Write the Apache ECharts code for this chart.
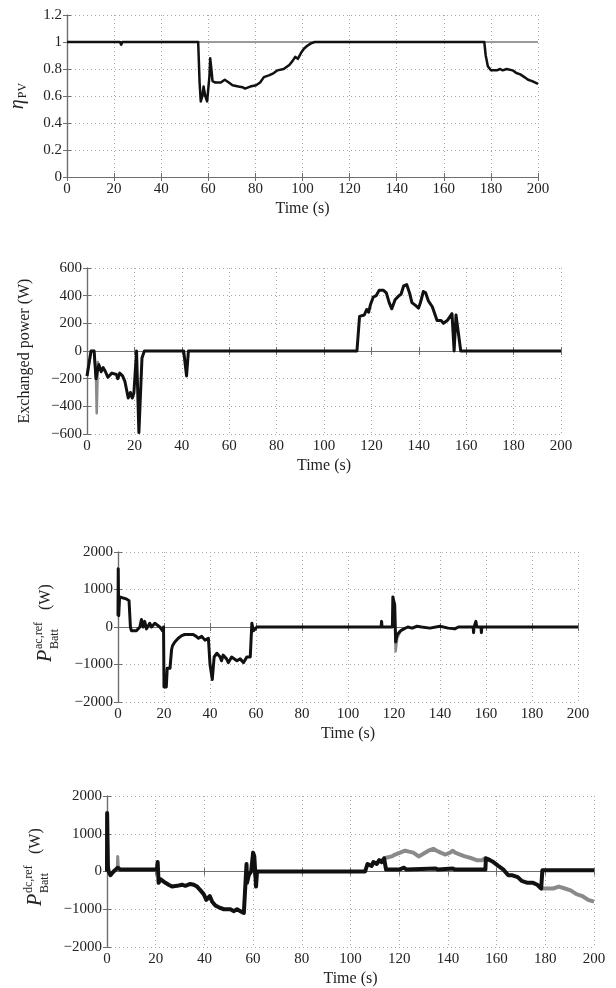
<!DOCTYPE html>
<html>
<head>
<meta charset="utf-8">
<script src="https://cdn.jsdelivr.net/npm/echarts@6/dist/echarts.min.js"></script>
<style>
  html, body { margin: 0; padding: 0; background: #fff; }
  #chart { width: 616px; height: 988px; }
</style>
</head>
<body>
<div id="chart"></div>
<script>
// time axis shared by all four panels
const timeTicks = { min: 0, max: 200, interval: 20 };

// panel 1: PV efficiency
const etaPv = [[0,1],[22.5,1],[23,0.98],[23.5,1],[55.7,1],[56.3,0.7],[56.8,0.56],[57.5,0.6],[58,0.67],[58.7,0.6],[59.5,0.56],[60,0.55],[60.5,0.75],[60.8,0.88],[61.3,0.8],[61.8,0.71],[63,0.70],[65.3,0.70],[67,0.72],[68.7,0.70],[70.3,0.68],[72.8,0.67],[74.5,0.665],[75.6,0.655],[77.8,0.67],[80.3,0.68],[82,0.70],[83.6,0.74],[86,0.755],[87.8,0.77],[89.4,0.79],[92,0.80],[92.8,0.795],[94.4,0.83],[95.8,0.86],[96.9,0.89],[98,0.875],[99.4,0.92],[100.6,0.95],[101.9,0.97],[103.6,0.99],[105.2,1],[177.2,1],[177.8,0.9],[178.7,0.82],[180,0.79],[182.5,0.79],[183.9,0.80],[185,0.79],[186.7,0.80],[187.5,0.81],[189.2,0.79],[190.8,0.77],[192.5,0.76],[194.2,0.74],[195.8,0.72],[197.5,0.71],[200,0.69]];
const etaMax = [[0,1],[200,1]];

// panel 2: exchanged power
const exchPower = [[0,-180],[1.7,0],[3,0],[3.8,-200],[4.3,-150],[5,-100],[6,-150],[6.8,-120],[7.8,-150],[8.8,-190],[10.5,-160],[11.3,-150],[12.4,-170],[13,-200],[13.8,-160],[15,-180],[16,-220],[16.7,-230],[17.4,-340],[18.3,-300],[19.1,-340],[19.8,-300],[20.9,0],[21.9,-590],[23.2,-50],[24.2,0],[40.8,0],[42,-180],[42.8,0],[113.9,0],[115,250],[117,260],[118,300],[118.8,280],[119.7,340],[120.8,390],[122,400],[123.3,440],[125,440],[126.3,420],[127.5,350],[128.6,305],[130,370],[131.6,400],[132.5,410],[133.6,470],[134.9,480],[136.1,420],[137.1,350],[138.6,330],[139.9,310],[140.7,350],[141.9,430],[142.9,420],[144.1,360],[145.7,320],[146.5,280],[147.7,220],[149.4,220],[150.4,200],[152,220],[154,270],[154.9,0],[155.7,260],[156.5,250],[157.7,0],[200,0]];
const exchPowerRef = [[0,-180],[1.7,0],[3,0],[3.8,-200],[4.1,-450],[4.6,-80],[5,-100]];

// panel 3: battery ac reference
const acRef = [[0,300],[0.1,1550],[0.3,300],[0.7,800],[1.5,780],[3.6,750],[4.8,700],[5.4,0],[5.8,-100],[8,-100],[8.7,-50],[9.5,0],[10.2,200],[10.9,0],[11.6,150],[12.4,-50],[13.8,100],[14.6,0],[15.3,-50],[16,100],[16.7,50],[18.2,0],[19.4,-100],[19.8,0],[20,-1600],[21,-1600],[21.4,-1100],[22.6,-1100],[23.3,-600],[23.7,-500],[24.7,-400],[26.2,-300],[27.7,-230],[29,-200],[32.7,-200],[34,-250],[35,-300],[36.4,-250],[37.8,-350],[39.3,-300],[40,-1000],[41,-1400],[41.8,-800],[43,-700],[44.4,-800],[45,-900],[45.7,-750],[47.2,-850],[48,-950],[49.4,-800],[51.7,-900],[53.1,-850],[54.6,-950],[55.3,-1000],[56,-800],[57.5,-800],[58.2,100],[58.9,-100],[60.4,0],[114.4,0],[114.6,150],[114.8,0],[119.3,0],[119.5,800],[120.3,600],[120.7,-400],[121.4,-200],[122.9,-100],[124.3,-50],[126,0],[127.9,-30],[130,20],[132,0],[135.6,-30],[140,20],[143.6,-30],[146.4,-50],[148,0],[154.4,0],[154.6,-150],[154.8,0],[155.6,150],[156,0],[157.8,0],[158,-150],[158.2,0],[200,0]];
const acRefGray = [[120.3,600],[120.7,-650],[121.4,-300],[122.9,-100],[124.3,-50]];

// panel 4: battery dc reference
const dcRef = [[0,0],[0.05,1550],[0.4,100],[0.7,0],[1.4,-100],[2,-50],[2.7,0],[3.4,50],[4.4,100],[5.5,50],[20.5,50],[20.8,250],[21.2,-300],[21.9,-200],[22.6,-250],[24,-300],[25.3,-350],[26.7,-400],[28.8,-380],[30.8,-350],[32.2,-380],[34.2,-330],[35.6,-350],[37,-400],[38.4,-500],[39.7,-600],[40.8,-750],[42.2,-650],[43.2,-800],[44.5,-900],[45.9,-950],[48,-1000],[50.7,-1000],[52,-1050],[53.4,-1000],[54.1,-950],[54.8,-1050],[56.2,-1100],[56.8,-1050],[57.3,200],[57.5,-300],[58.2,-100],[59.2,0],[60,500],[60.5,400],[61.2,-400],[61.6,0],[106,0],[107,200],[108.7,150],[109.4,250],[110.8,200],[111.8,300],[112.8,250],[113.8,350],[114.6,50],[120,50],[122,100],[123,50],[135,80],[136,50],[142,80],[143,50],[155.4,50],[155.6,350],[157.3,300],[158.7,250],[160.7,150],[162.8,50],[164.8,-100],[166.5,-100],[168.7,-150],[170.3,-250],[172.7,-300],[175,-300],[176.7,-350],[178.3,-450],[178.8,30],[200,30]];
const dcRefSpike = [[4.2,50],[4.4,400],[4.7,50]];
const dcRefMid = [[113.8,350],[114.6,300],[116.9,400],[118.3,450],[120.4,500],[122.4,550],[124.5,520],[125.8,500],[128,400],[129.4,450],[132,550],[134,600],[135.4,550],[137,500],[139,450],[140.9,500],[142,550],[143,500],[145,450],[147,400],[149.8,350],[151.8,300],[153.9,300],[155.3,350],[155.9,350],[157.3,300]];
const dcRefEnd = [[178.3,-450],[180,-450],[183.2,-450],[185.6,-400],[188,-450],[190.4,-500],[192.8,-600],[195.2,-650],[197.6,-750],[200,-800]];

const serif = 'Liberation Serif';
const frameColor = '#6e6e6e';
const gridLine = { show: true, lineStyle: { color: '#a8a8a8', type: [1, 3], width: 1 } };

// plain numbers, true minus sign, no thousands separator
function tickText(v) {
  const s = String(Math.round(v * 100) / 100);
  return s.replace('-', '\u2212');
}

var chartDom = document.getElementById('chart');
var myChart = echarts.init(chartDom);
var option;

const grids = [
  { left: 63, right: 78, top: 15, height: 162 },
  { left: 87, right: 55, top: 268, height: 166 },
  { left: 118, right: 38, top: 552, height: 150 },
  { left: 107, right: 22, top: 796, height: 151 }
];

const yRanges = [
  { min: 0, max: 1.2, interval: 0.2 },
  { min: -600, max: 600, interval: 200 },
  { min: -2000, max: 2000, interval: 1000 },
  { min: -2000, max: 2000, interval: 1000 }
];

const yNames = [
  { name: '{i|η}{sub|PV}', gap: 38 },
  { name: 'Exchanged power (W)', gap: 54 },
  { name: '', gap: 0 },
  { name: '', gap: 0 }
];

const xAxes = [];
const yAxes = [];
grids.forEach(function (g, i) {
  xAxes.push({
    type: 'value', gridIndex: i, min: timeTicks.min, max: timeTicks.max, interval: timeTicks.interval,
    name: 'Time (s)', nameLocation: 'middle', nameGap: 24,
    nameTextStyle: { fontFamily: serif, fontSize: 16, color: '#222' },
    axisLine: { show: true, lineStyle: { color: frameColor, width: 1.2 } },
    axisTick: { show: true, inside: true, length: 4, lineStyle: { color: frameColor } },
    axisLabel: { fontFamily: serif, fontSize: 15, color: '#222', margin: 5, formatter: tickText },
    splitLine: gridLine
  });
  xAxes.push({
    type: 'value', gridIndex: i, position: 'top', min: timeTicks.min, max: timeTicks.max, interval: timeTicks.interval,
    axisLine: { show: true, lineStyle: { color: frameColor, width: 1.2 } },
    axisTick: { show: true, inside: true, length: 4, lineStyle: { color: frameColor } },
    axisLabel: { show: false }, splitLine: { show: false }
  });
  yAxes.push({
    type: 'value', gridIndex: i, min: yRanges[i].min, max: yRanges[i].max, interval: yRanges[i].interval,
    name: yNames[i].name, nameLocation: 'middle', nameGap: yNames[i].gap, nameRotate: 90,
    nameTextStyle: {
      fontFamily: serif, fontSize: 16, color: '#222',
      rich: {
        i: { fontFamily: serif, fontStyle: 'italic', fontSize: 20, color: '#222' },
        sub: { fontFamily: serif, fontSize: 12, color: '#222', padding: [10, 0, 0, 1] }
      }
    },
    axisLine: { show: true, lineStyle: { color: frameColor, width: 1.2 } },
    axisTick: { show: true, inside: true, length: 4, lineStyle: { color: frameColor } },
    axisLabel: { fontFamily: serif, fontSize: 15, color: '#222', margin: 5, formatter: tickText },
    splitLine: gridLine
  });
  yAxes.push({
    type: 'value', gridIndex: i, position: 'right', min: yRanges[i].min, max: yRanges[i].max, interval: yRanges[i].interval,
    axisLine: { show: true, lineStyle: { color: frameColor, width: 1.2 } },
    axisTick: { show: true, inside: true, length: 4, lineStyle: { color: frameColor } },
    axisLabel: { show: false }, splitLine: { show: false }
  });
});

function line(data, panel, color, width, z) {
  return {
    type: 'line', data: data, xAxisIndex: panel * 2, yAxisIndex: panel * 2,
    showSymbol: false, symbol: 'none', animation: false, z: z,
    lineStyle: { color: color, width: width, join: 'round' }
  };
}

// stacked super/subscript label for the battery panels
function batteryLabel(x, y, sup) {
  return {
    type: 'group', x: x, y: y, rotation: Math.PI / 2,
    children: [
      { type: 'text', x: 0, y: 0, style: { text: 'P', font: 'italic 20px ' + serif, fill: '#222', verticalAlign: 'middle' } },
      { type: 'text', x: 13, y: -7, style: { text: sup, font: '12px ' + serif, fill: '#222', verticalAlign: 'middle' } },
      { type: 'text', x: 13, y: 9, style: { text: 'Batt', font: '12px ' + serif, fill: '#222', verticalAlign: 'middle' } },
      { type: 'text', x: 52, y: 0, style: { text: '(W)', font: '16px ' + serif, fill: '#222', verticalAlign: 'middle' } }
    ]
  };
}

option = {
  backgroundColor: '#fff',
  animation: false,
  grid: grids,
  xAxis: xAxes,
  yAxis: yAxes,
  graphic: [
    batteryLabel(46, 662, 'ac,ref'),
    batteryLabel(36, 906, 'dc,ref')
  ],
  series: [
    line(etaMax, 0, '#9a9a9a', 2, 2),
    line(etaPv, 0, '#111', 2.5, 3),
    line(exchPowerRef, 1, '#8a8a8a', 2.5, 2),
    line(exchPower, 1, '#111', 3, 3),
    line(acRefGray, 2, '#8a8a8a', 2.5, 2),
    line(acRef, 2, '#111', 3, 3),
    line(dcRefSpike, 3, '#8a8a8a', 3, 2),
    line(dcRefMid, 3, '#8a8a8a', 4, 2),
    line(dcRefEnd, 3, '#8a8a8a', 4, 2),
    line(dcRef, 3, '#111', 4, 3)
  ]
};

option && myChart.setOption(option);
</script>
</body>
</html>
